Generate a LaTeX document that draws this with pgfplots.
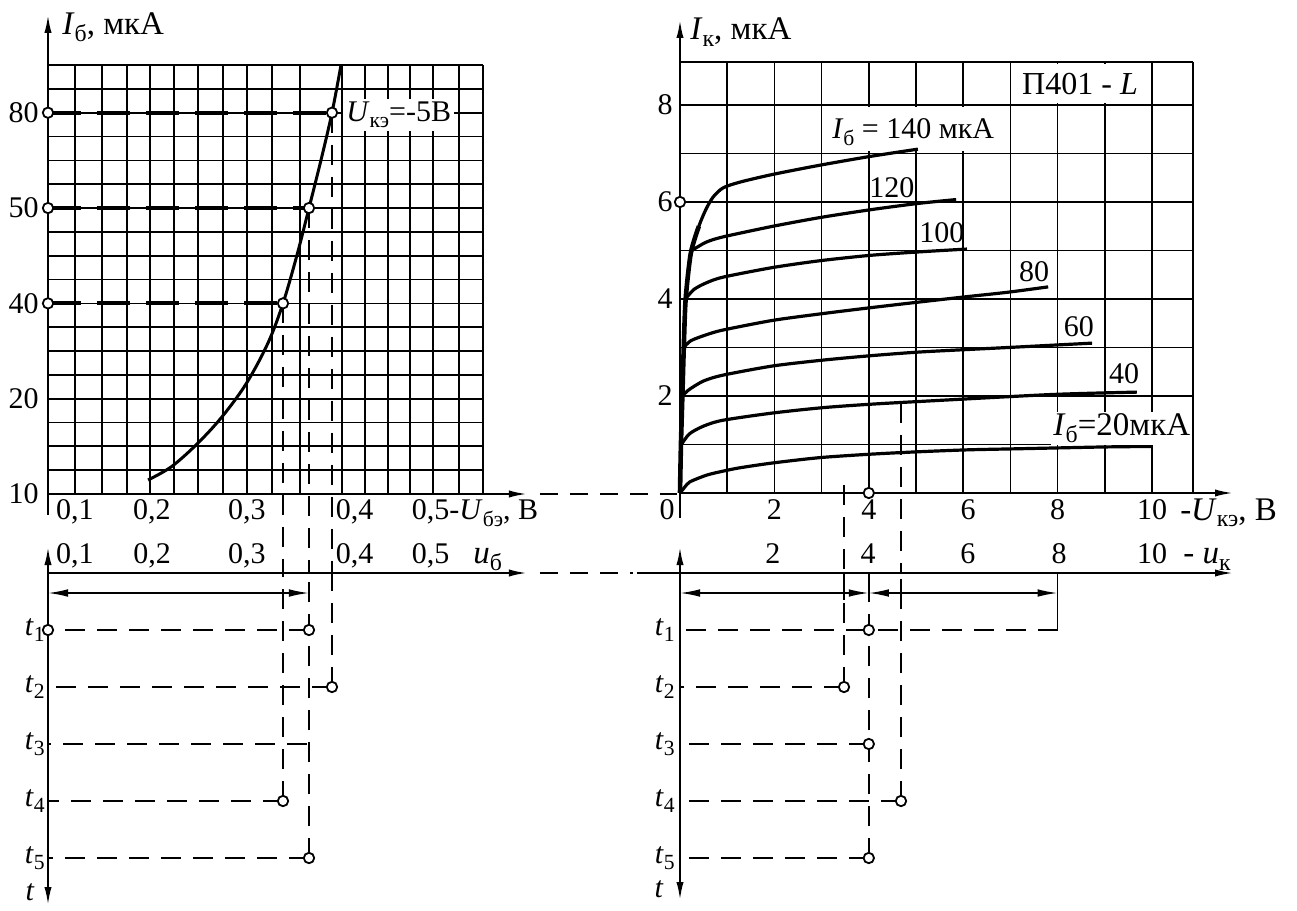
\documentclass[border=0pt]{standalone}
\usepackage{fontspec}
\setmainfont{Liberation Serif}
\usepackage{pgfplots}
\pgfplotsset{compat=1.18}
\usetikzlibrary{arrows.meta}

\newcommand\fs[1]{\fontsize{#1}{#1}\selectfont}
\newcommand\sub[1]{\raisebox{-0.45ex}{\scalebox{0.72}{#1}}}

\tikzset{
  axln/.style={line width=1pt},
  tip/.style={-{Latex[length=9pt,width=3.6pt]}},
  tips/.style={{Latex[length=9pt,width=3.6pt]}-{Latex[length=9pt,width=3.6pt]}},
  dimln/.style={line width=0.8pt,{Latex[length=10pt,width=3.8pt]}-{Latex[length=10pt,width=3.8pt]}},
  lead/.style={line width=2pt, dash pattern=on 16.5pt off 8pt},
  proj/.style={line width=0.8pt, dash pattern=on 10pt off 6pt},
  link/.style={line width=0.9pt, dash pattern=on 9pt off 6pt},
  lab/.style={font=\fs{15}, inner sep=0pt},
  tag/.style={font=\fs{15}, inner sep=0pt},
  ttl/.style={font=\fs{16.5}, inner sep=0pt},
}
\pgfplotsset{
  panel/.style={
    scale only axis, clip=false,
    axis line style={draw=none},
    major tick length=0pt,
    tick style={draw=none},
    ticklabel style={font=\fs{15}, inner sep=0pt},
  },
  gridded/.style={grid=major, grid style={line width=0.85pt, black}},
  ring/.style={only marks, mark=*, mark size=2.6pt,
    mark options={fill=white, draw=black, line width=0.9pt}},
  curve/.style={black, line width=1.6pt, smooth, tension=0.45},
}

\begin{document}
\begin{tikzpicture}
\useasboundingbox (0,0) rectangle (648.5pt,455.5pt);

% ---------- input characteristic I_b(U_be) ----------
\begin{axis}[panel, gridded,
  at={(24pt,208.5pt)}, anchor=south west,
  x=430pt, y=11.915pt,
  xmin=0.068605, xmax=0.574419, ymin=10, ymax=95,
  % I_b scale: 10, 20, 40, 50, 80 mkA set four grid rows apart
  y coord trafo/.code={\pgfmathparse{(#1<20)*((#1-10)*0.4)+(#1>=20)*(#1<40)*(4+(#1-20)*0.2)+(#1>=40)*(#1<50)*(8+(#1-40)*0.4)+(#1>=50)*(12+(#1-50)*4/30)}},
  xtick={0.068605,0.1,0.131395,0.160465,0.187209,0.215116,0.243023,0.272093,0.3,0.32907,0.361628,0.410465,0.437209,0.463953,0.489535,0.516279,0.546512,0.574419},
  xticklabels={},
  ytick={10,12.5,15,17.5,20,25,30,35,40,42.5,45,47.5,50,57.5,65,72.5,80,87.5,95},
  yticklabels={},
  extra x ticks={0.1,0.2,0.3,0.4,0.5},
  extra x tick labels={{0,1},{\makebox[0pt]{\hspace*{-9pt}0,2}},{0,3},{\makebox[0pt][l]{\hspace*{1.5pt}0,4}},{\makebox[0pt][l]{\hspace*{-3.5pt}0,5-\textit{U}\sub{бэ}, В}}},
  extra y ticks={10,20,40,50,80},
  extra y tick labels={10,20,40,50,80},
  extra tick style={grid=none},
  xticklabel style={anchor=base, yshift=-13pt},
  yticklabel style={anchor=east, xshift=-4.5pt},
]
\addplot[curve, line width=1.5pt, tension=0.55] coordinates {
  (0.184884,11.47) (0.211628,12.83) (0.240698,15.14) (0.269767,17.97)
  (0.298837,23.08) (0.324419,31.68) (0.34186,40) (0.35814,45.07)
  (0.372093,50) (0.386047,65.1) (0.398837,80) (0.409302,95)};
\draw[lead] (axis cs:0.068605,40) -- (axis cs:0.34186,40);
\draw[lead] (axis cs:0.068605,50) -- (axis cs:0.372093,50);
\draw[lead] (axis cs:0.068605,80) -- (axis cs:0.398837,80);
\draw[proj] (axis cs:0.34186,40) -- (axis cs:0.34186,1.71);
\draw[proj] (axis cs:0.372093,50) -- (axis cs:0.372093,1.71);
\draw[proj] (axis cs:0.398837,80) -- (axis cs:0.398837,1.71);
\draw[axln,tip] (axis cs:0.068605,7.8) -- (axis cs:0.068605,110.8);
\draw[axln,tip] (axis cs:0.068605,10) -- (axis cs:0.625581,10);
\draw[link] (axis cs:0.640698,10) -- (axis cs:0.8,10);
\addplot[ring] coordinates {(0.068605,40) (0.068605,50) (0.068605,80)
  (0.34186,40) (0.372093,50) (0.398837,80)};
\node[ttl, anchor=west] at (axis cs:0.084884,106.8) {\textit{I}\sub{б}, мкА};
\node[tag, anchor=west, fill=white, inner sep=1.5pt] at (axis cs:0.411628,79.3) {\textit{U}\sub{кэ}=-5В};
\end{axis}

% ---------- output characteristics I_k(U_ke) ----------
\begin{axis}[panel, gridded,
  at={(340pt,209pt)}, anchor=south west,
  x=23.6pt, y=24.25pt,
  xmin=0, xmax=10.87, ymin=0, ymax=8.89,
  xtick={0,1,2,3,4,5,6,7,8,9,10,10.87},
  xticklabels={{\makebox[0pt]{\hspace*{-13pt}0}},,2,,4,,{\makebox[0pt]{\hspace*{5pt}6}},,8,,10,},
  ytick={0,1,2,3,4,5,6,7,8,8.89},
  yticklabels={,,2,,4,,6,,8,},
  xticklabel style={anchor=base, yshift=-13.5pt},
  yticklabel style={anchor=east, xshift=-3.5pt},
]
\fill[white] (axis cs:3.12,7.06) rectangle (axis cs:6.9,7.95);
\fill[white] (axis cs:7.04,8.04) rectangle (axis cs:9.96,8.85);
% I_b = 20 ... 140 mkA
\addplot[curve] coordinates {(0,0) (0.1,0.12) (0.21,0.23) (0.57,0.37) (0.91,0.45)
  (1.27,0.52) (1.97,0.62) (2.97,0.73) (4.03,0.80) (5.05,0.85) (6.1,0.89)
  (7.06,0.91) (8.03,0.93) (9.03,0.95) (10.02,0.96)};
\addplot[curve] coordinates {(0.03,1.0) (0.2,1.22) (0.5,1.38) (0.91,1.50)
  (1.97,1.65) (3.03,1.76) (4.03,1.83) (5.13,1.89) (7.86,2.03) (9.68,2.08)};
\addplot[curve] coordinates {(0.05,2.0) (0.19,2.13) (0.5,2.31) (0.91,2.43)
  (1.97,2.62) (3.03,2.74) (4.03,2.83) (5.13,2.91) (6.95,3.0) (8.73,3.09)};
\addplot[curve] coordinates {(0.08,3.0) (0.23,3.14) (0.55,3.26) (0.91,3.36)
  (1.97,3.56) (3.03,3.70) (4.03,3.82) (5.0,3.93) (6.0,4.04) (6.95,4.14) (7.8,4.25)};
\addplot[curve] coordinates {(0.13,4.02) (0.3,4.2) (0.55,4.33) (0.91,4.45)
  (1.97,4.65) (2.97,4.79) (4.03,4.90) (5.04,4.97) (6.08,5.03)};
\addplot[curve] coordinates {(0.25,5.0) (0.55,5.17) (0.91,5.28) (1.97,5.5)
  (2.97,5.68) (4.03,5.84) (5.04,5.97) (5.85,6.05)};
\addplot[curve] coordinates {(0,0) (0.02,1) (0.05,2) (0.08,3) (0.12,4) (0.23,4.95)
  (0.4,5.5) (0.55,5.85) (0.7,6.1) (0.91,6.29) (1.27,6.41) (1.97,6.57) (2.97,6.76)
  (4.03,6.94) (5.04,7.09)};
\addplot[curve, line width=2.3pt] coordinates {(0,0) (0.02,1) (0.05,2) (0.08,3)
  (0.12,4) (0.23,4.95) (0.4,5.5)};
\draw[proj] (axis cs:3.475,0.165) -- (axis cs:3.475,-1.649);
\draw[proj] (axis cs:4.682,1.86) -- (axis cs:4.682,-1.649);
\draw[axln,tip] (axis cs:0,-0.515) -- (axis cs:0,9.753);
\draw[axln,tip] (axis cs:0,0) -- (axis cs:11.716,0);
\addplot[ring] coordinates {(0,6) (4,0)};
\node[tag] at (axis cs:4.94,7.44) {\textit{I}\sub{б} = 140 мкА};
\node[tag, font=\fs{16}] at (axis cs:8.475,8.43) {П401 - \textit{L}};
\node[lab] at (axis cs:4.49,6.29) {120};
\node[lab] at (axis cs:5.55,5.36) {100};
\node[lab] at (axis cs:7.5,4.56) {80};
\node[lab] at (axis cs:8.45,3.42) {60};
\node[lab] at (axis cs:9.41,2.47) {40};
\node[lab, font=\fs{16.5}, fill=white, inner sep=1pt] at (axis cs:9.36,1.34) {\textit{I}\sub{б}=20мкА};
\node[ttl, anchor=west] at (axis cs:0.212,9.5) {\textit{I}\sub{к}, мкА};
\node[ttl, anchor=base west] at (axis cs:10.59,-0.557) {-\textit{U}\sub{кэ}, В};
\end{axis}

% ---------- base voltage u_b(t) ----------
\begin{axis}[panel,
  at={(24pt,169pt)}, anchor=north west,
  x=430pt, y=28.5pt, y dir=reverse,
  xmin=0.068605, xmax=0.574419, ymin=0, ymax=5,
  xtick=\empty, ytick=\empty,
]
\draw[axln,tips] (axis cs:0.068605,-0.456) -- (axis cs:0.068605,5.825);
\draw[axln,tip] (axis cs:0.068605,0) -- (axis cs:0.625581,0);
\draw[link] (axis cs:0.640698,0) -- (axis cs:0.748837,0);
\node[lab,anchor=base] at (axis cs:0.1,-0.16) {0,1};
\node[lab,anchor=base] at (axis cs:0.2,-0.16) {\makebox[0pt]{\hspace*{-9pt}0,2}};
\node[lab,anchor=base] at (axis cs:0.3,-0.16) {0,3};
\node[lab,anchor=base] at (axis cs:0.4,-0.16) {\makebox[0pt][l]{\hspace*{1.5pt}0,4}};
\node[lab,anchor=base] at (axis cs:0.5,-0.16) {\makebox[0pt][l]{\hspace*{-3.5pt}0,5}};
\node[ttl,anchor=base west] at (axis cs:0.562791,-0.16) {\textit{u}\sub{б}};
\draw[dimln] (axis cs:0.068605,0.351) -- (axis cs:0.372093,0.351);
\draw[proj] (axis cs:0.34186,4) -- (axis cs:0.34186,0);
\draw[proj] (axis cs:0.372093,5) -- (axis cs:0.372093,0);
\draw[proj] (axis cs:0.398837,2) -- (axis cs:0.398837,0);
\draw[proj] (axis cs:0.372093,1) -- (axis cs:0.068605,1);
\draw[proj] (axis cs:0.398837,2) -- (axis cs:0.068605,2);
\draw[proj] (axis cs:0.369767,3) -- (axis cs:0.068605,3);
\draw[proj] (axis cs:0.34186,4) -- (axis cs:0.068605,4);
\draw[proj] (axis cs:0.372093,5) -- (axis cs:0.068605,5);
\addplot[ring] coordinates {(0.068605,1) (0.372093,1) (0.398837,2) (0.34186,4) (0.372093,5)};
\node[tag,anchor=east] at (axis cs:0.065116,1) {\textit{t}\sub{1}};
\node[tag,anchor=east] at (axis cs:0.065116,2) {\textit{t}\sub{2}};
\node[tag,anchor=east] at (axis cs:0.065116,3) {\textit{t}\sub{3}};
\node[tag,anchor=east] at (axis cs:0.065116,4) {\textit{t}\sub{4}};
\node[tag,anchor=east] at (axis cs:0.065116,5) {\textit{t}\sub{5}};
\node[tag] at (axis cs:0.047674,5.6) {\textit{t}};
\end{axis}

% ---------- collector voltage u_k(t) ----------
\begin{axis}[panel,
  at={(340pt,169pt)}, anchor=north west,
  x=23.6pt, y=28.5pt, y dir=reverse,
  xmin=0, xmax=10.87, ymin=0, ymax=5,
  xtick=\empty, ytick=\empty,
]
\draw[axln,tips] (axis cs:0,-0.456) -- (axis cs:0,5.737);
\draw[axln,tip] (axis cs:-0.911,0) -- (axis cs:11.716,0);
\node[lab,anchor=base] at (axis cs:1.97,-0.16) {2};
\node[lab,anchor=base] at (axis cs:3.983,-0.16) {4};
\node[lab,anchor=base] at (axis cs:6.1,-0.16) {6};
\node[lab,anchor=base] at (axis cs:8.03,-0.16) {8};
\node[lab,anchor=base] at (axis cs:10.0,-0.16) {10};
\node[ttl,anchor=base west] at (axis cs:10.657,-0.16) {- \textit{u}\sub{к}};
\draw[dimln] (axis cs:0,0.351) -- (axis cs:4,0.351);
\draw[dimln] (axis cs:4,0.351) -- (axis cs:8,0.351);
\draw[line width=0.8pt] (axis cs:8,0) -- (axis cs:8,1);
\draw[line width=0.8pt] (axis cs:4,0) -- (axis cs:4,0.47);
\draw[line width=0.8pt] (axis cs:3.475,0) -- (axis cs:3.475,0.47);
\draw[line width=0.8pt] (axis cs:4.682,0.1) -- (axis cs:4.682,0.47);
\draw[proj] (axis cs:4,5) -- (axis cs:4,0.47);
\draw[proj] (axis cs:3.475,2) -- (axis cs:3.475,0.47);
\draw[proj] (axis cs:4.682,4) -- (axis cs:4.682,0.47);
\draw[proj] (axis cs:8,1) -- (axis cs:0,1);
\draw[proj] (axis cs:3.475,2) -- (axis cs:0,2);
\draw[proj] (axis cs:4,3) -- (axis cs:0,3);
\draw[proj] (axis cs:4.682,4) -- (axis cs:0,4);
\draw[proj] (axis cs:4,5) -- (axis cs:0,5);
\addplot[ring] coordinates {(4,1) (3.475,2) (4,3) (4.682,4) (4,5)};
\node[tag,anchor=east] at (axis cs:-0.106,1) {\textit{t}\sub{1}};
\node[tag,anchor=east] at (axis cs:-0.106,2) {\textit{t}\sub{2}};
\node[tag,anchor=east] at (axis cs:-0.106,3) {\textit{t}\sub{3}};
\node[tag,anchor=east] at (axis cs:-0.106,4) {\textit{t}\sub{4}};
\node[tag,anchor=east] at (axis cs:-0.106,5) {\textit{t}\sub{5}};
\node[tag] at (axis cs:-0.445,5.54) {\textit{t}};
\end{axis}
\end{tikzpicture}
\end{document}
